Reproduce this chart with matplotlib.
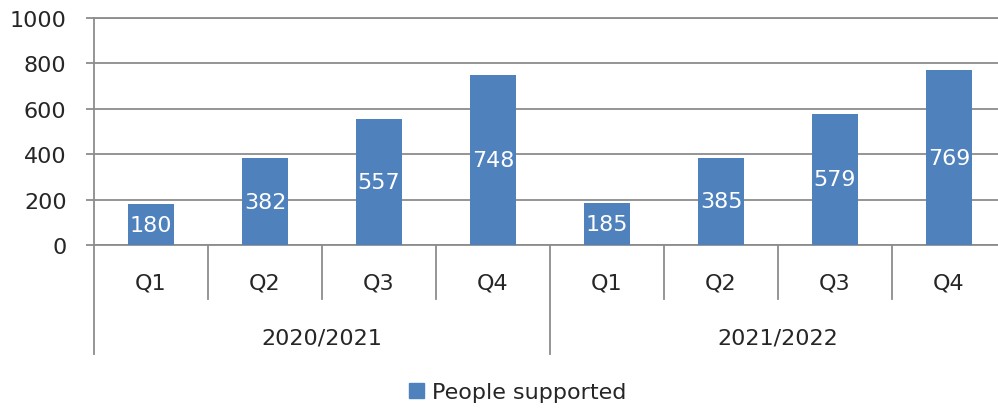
import matplotlib
matplotlib.use("Agg")
import matplotlib.pyplot as plt
from matplotlib.lines import Line2D

quarters = ["Q1", "Q2", "Q3", "Q4", "Q1", "Q2", "Q3", "Q4"]
years = ["2020/2021", "2021/2022"]
people_supported = [180, 382, 557, 748, 185, 385, 579, 769]
yticks = [0, 200, 400, 600, 800, 1000]

bar_color = "#4F81BD"
grid_color = "#8C8C8C"
text_color = "#262626"
fs = 16

W, H = 998, 410
fig = plt.figure(figsize=(W / 100, H / 100), dpi=100)
left, right, top, bottom = 94, 998, 19, 246
ax = fig.add_axes([left / W, 1 - bottom / H, (right - left) / W, (bottom - top) / H])

cat_px = 114
x = list(range(len(people_supported)))
ax.bar(x, people_supported, width=0.4, color=bar_color, zorder=3)
for xi, v in zip(x, people_supported):
    ax.text(xi, v / 2, str(v), ha="center", va="center", color="white",
            fontsize=fs, zorder=4)

ax.set_xlim(-0.5, -0.5 + (right - left) / cat_px)
ax.set_ylim(0, 1000)
ax.set_yticks(yticks)
ax.tick_params(axis="y", length=5.8, color=grid_color, width=1.3, labelsize=fs,
               pad=14, labelcolor=text_color)
ax.set_xticks([])
ax.yaxis.grid(True, color=grid_color, linewidth=1.3, zorder=0)
for s in ["top", "bottom", "left"]:
    ax.spines[s].set_color(grid_color)
    ax.spines[s].set_linewidth(1.3)
ax.spines["right"].set_visible(False)

# multi-level category axis
ah = bottom - top
trans = ax.get_xaxis_transform()
short = -(300 - bottom) / ah
long_ = -(355 - bottom) / ah
for i in range(len(quarters) + 1):
    b = i - 0.5
    y0 = long_ if i % 4 == 0 else short
    ax.add_line(Line2D([b, b], [0, y0], transform=trans, color=grid_color,
                       linewidth=1.3, clip_on=False))
    if i < len(quarters):
        ax.text(i, -(284 - bottom) / ah, quarters[i], transform=trans,
                ha="center", va="center", fontsize=fs, color=text_color)
for j, yr in enumerate(years):
    ax.text(j * 4 + 1.5, -(339 - bottom) / ah, yr, transform=trans,
            ha="center", va="center", fontsize=fs, color=text_color)

handle = plt.Rectangle((0, 0), 1, 1, color=bar_color)
fig.legend([handle], ["People supported"], loc="center",
           bbox_to_anchor=(518 / W, 1 - 393 / H), frameon=False, fontsize=fs,
           handlelength=0.65, handleheight=0.65, handletextpad=0.4,
           labelcolor=text_color)

fig.savefig("out.png", dpi=100)
